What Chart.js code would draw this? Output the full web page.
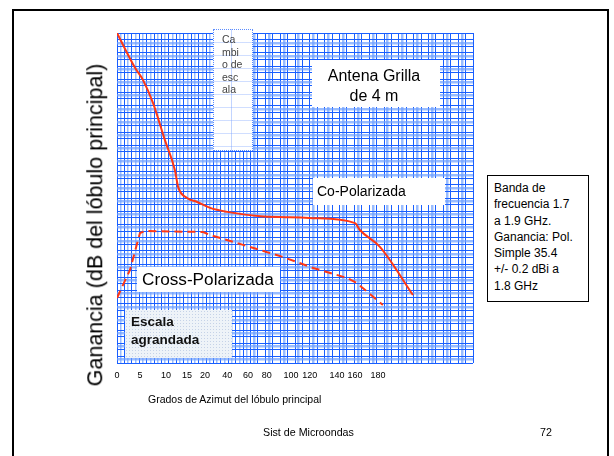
<!DOCTYPE html>
<html>
<head>
<meta charset="utf-8">
<script src="https://cdn.jsdelivr.net/npm/chart.js@4.4.1/dist/chart.umd.min.js"></script>
<style>
  body { margin: 0; background: #fff; font-family: "Liberation Sans", Arial, sans-serif; }
  #wrap { position: relative; width: 614px; height: 456px; overflow: hidden; }
  #chart { position: absolute; left: 0; top: 0; }
  .t { position: absolute; white-space: nowrap; color: #000; line-height: 1; }
  .box { position: absolute; background: #fff; }
  #slide { position: absolute; left: 12px; top: 9px; width: 597px; height: 470px; border: 2px solid #000; box-sizing: border-box; }
</style>
</head>
<body>
<div id="wrap">
  <div id="slide"></div>
  <canvas id="chart" width="614" height="456"></canvas>

  <!-- Cuadro "Cambio de escala" -->
  <div class="box" style="left:213px;top:29px;width:40px;height:122px;border:1px dotted #5b8cff;box-sizing:border-box;
       background-color:#fff;
       background-image:repeating-linear-gradient(to right, transparent 0 17px, rgba(120,160,255,.45) 17px 18px, transparent 18px 29px),
                        repeating-linear-gradient(to bottom, transparent 0 12px, rgba(120,160,255,.35) 12px 13px);"></div>
  <div class="t" style="left:222px;top:33px;font-size:10.5px;line-height:12.5px;color:#444;">Ca<br>mbi<br>o de<br>esc<br>ala</div>

  <!-- Antena -->
  <div class="box" style="left:312px;top:60px;width:128px;height:47px;"></div>
  <div class="t" style="left:312px;top:66px;width:124px;text-align:center;font-size:16px;line-height:20px;">Antena Grilla<br>de 4 m</div>

  <!-- Co-Polarizada -->
  <div class="box" style="left:313px;top:178px;width:132px;height:27px;"></div>
  <div class="t" style="left:317px;top:184px;font-size:14px;">Co-Polarizada</div>

  <!-- Cross-Polarizada -->
  <div class="box" style="left:137px;top:267px;width:143px;height:25px;"></div>
  <div class="t" style="left:142px;top:271px;font-size:17.2px;">Cross-Polarizada</div>

  <!-- Escala agrandada -->
  <div class="box" style="left:125px;top:310px;width:107px;height:48px;background-color:#eef3f8;
       background-image:radial-gradient(rgba(120,150,200,.35) 0.7px, transparent 0.9px);background-size:3px 3px;"></div>
  <div class="t" style="left:131px;top:313px;font-size:13.5px;line-height:18px;font-weight:bold;color:#111;">Escala<br>agrandada</div>

  <!-- Cuadro de datos -->
  <div class="box" style="left:487px;top:175px;width:102px;height:127px;border:1px solid #000;box-sizing:border-box;"></div>
  <div class="t" style="left:494px;top:180px;font-size:12px;line-height:16.3px;">Banda de<br>frecuencia 1.7<br>a 1.9 GHz.<br>Ganancia: Pol.<br>Simple 35.4<br>+/- 0.2 dBi a<br>1.8 GHz</div>

  <!-- Títulos de ejes -->
  <div class="t" style="left:96px;top:225px;font-size:21.5px;transform:translate(-50%,-50%) rotate(-90deg);">Ganancia (dB del lóbulo principal)</div>
  <div class="t" style="left:148px;top:394px;font-size:10.5px;">Grados de Azimut del lóbulo principal</div>

  <!-- Pie -->
  <div class="t" style="left:263px;top:427px;font-size:10.7px;">Sist de Microondas</div>
  <div class="t" style="left:540px;top:427px;font-size:10.7px;">72</div>
</div>

<script>
// Etiquetas del eje de azimut y su posición en el papel (unidades de grilla)
const azimutLabels = ['0', '5', '10', '15', '20', '40', '60', '80', '100', '120', '140', '160', '180'];
const azimutPos = [0, 6.2, 13.2, 18.9, 23.7, 29.7, 35.3, 40.4, 46.9, 52, 59.3, 64.2, 70.4];

// Curva co-polarizada (unidades de grilla)
const coPolX = [0, 4.9, 7.0, 9.7, 12.9, 15.6, 16.5, 18.9, 21.6, 25.1, 29.7, 38.6, 46.7, 52.9, 64.2, 65.5, 70.9, 79.8];
const coPolY = [100, 89.4, 85.8, 78.8, 67.6, 58.5, 53.3, 50, 48.8, 47, 45.8, 44.5, 44.2, 43.9, 42.4, 40.3, 35.2, 20.6];

// Curva cross-polarizada (unidades de grilla)
const crossPolX = [0, 3.5, 6.2, 7.6, 23.2, 25.1, 34, 44.8, 52.9, 62, 64.7, 71.7];
const crossPolY = [19.7, 28.2, 39.4, 40, 39.7, 38.8, 35.8, 32.1, 28.8, 25.8, 24.2, 17.6];

const xMax = 96;
const yMax = 100;

const dark = 'rgb(25,95,255)';
const light = 'rgba(110,160,255,0.7)';
const rojo = 'rgb(255,55,20)';

function rango(n) {
    const a = [];
    for (let i = 0; i <= n; i++) a.push({ value: i });
    return a;
}

// Zona izquierda: escala agrandada (grilla más densa)
function colorVertical(v) {
    if (v < 37) return v % 2 === 0 ? dark : light;
    if (v % 2 === 0) return dark;
    if (v % 4 === 1) return light;
    return 'rgba(0,0,0,0)';
}
function anchoVertical(v) {
    if (v % 2 === 0) return 1;
    return v < 37 ? 1.5 : 2.5;
}
function colorHorizontal(v) {
    if (v % 2 === 0) return dark;
    if (v % 4 === 1) return light;
    return 'rgba(0,0,0,0)';
}

const ctx = document.getElementById('chart').getContext('2d');
new Chart(ctx, {
    type: 'line',
    data: {
        datasets: [
            {
                label: 'Co-Polarizada',
                data: coPolX.map((x, i) => ({ x: x, y: coPolY[i] })),
                borderColor: rojo,
                borderWidth: 2,
                pointRadius: 0,
                cubicInterpolationMode: 'monotone',
                xAxisID: 'x',
                yAxisID: 'y'
            },
            {
                label: 'Cross-Polarizada',
                data: crossPolX.map((x, i) => ({ x: x, y: crossPolY[i] })),
                borderColor: rojo,
                borderWidth: 2,
                borderDash: [8, 5],
                pointRadius: 0,
                tension: 0,
                xAxisID: 'x',
                yAxisID: 'y'
            }
        ]
    },
    options: {
        responsive: false,
        animation: false,
        layout: { padding: { left: 117, top: 33, right: 141, bottom: 73 } },
        plugins: { legend: { display: false }, tooltip: { enabled: false } },
        scales: {
            x: {
                type: 'linear', min: 0, max: xMax,
                afterBuildTicks: s => { s.ticks = rango(xMax); },
                afterFit: s => { s.height = 0; },
                ticks: { display: false },
                grid: {
                    drawTicks: false,
                    color: c => colorVertical(c.tick.value),
                    lineWidth: c => anchoVertical(c.tick.value)
                },
                border: { display: false }
            },
            xl: {
                type: 'linear', position: 'bottom', min: 0, max: xMax,
                afterBuildTicks: s => { s.ticks = azimutPos.map(v => ({ value: v })); },
                afterFit: s => { s.height = 20; },
                ticks: {
                    autoSkip: false, maxRotation: 0, padding: 7, color: '#000',
                    font: { family: 'Liberation Sans', size: 9 },
                    callback: (v, i) => azimutLabels[i]
                },
                grid: { display: false, drawTicks: false },
                border: { display: false }
            },
            y: {
                type: 'linear', min: 0, max: yMax,
                afterBuildTicks: s => { s.ticks = rango(yMax); },
                afterFit: s => { s.width = 0; },
                ticks: { display: false },
                grid: {
                    drawTicks: false,
                    color: c => colorHorizontal(c.tick.value),
                    lineWidth: c => (c.tick.value % 2 === 0 ? 1 : 2.5)
                },
                border: { display: false }
            }
        }
    }
});
</script>
</body>
</html>
